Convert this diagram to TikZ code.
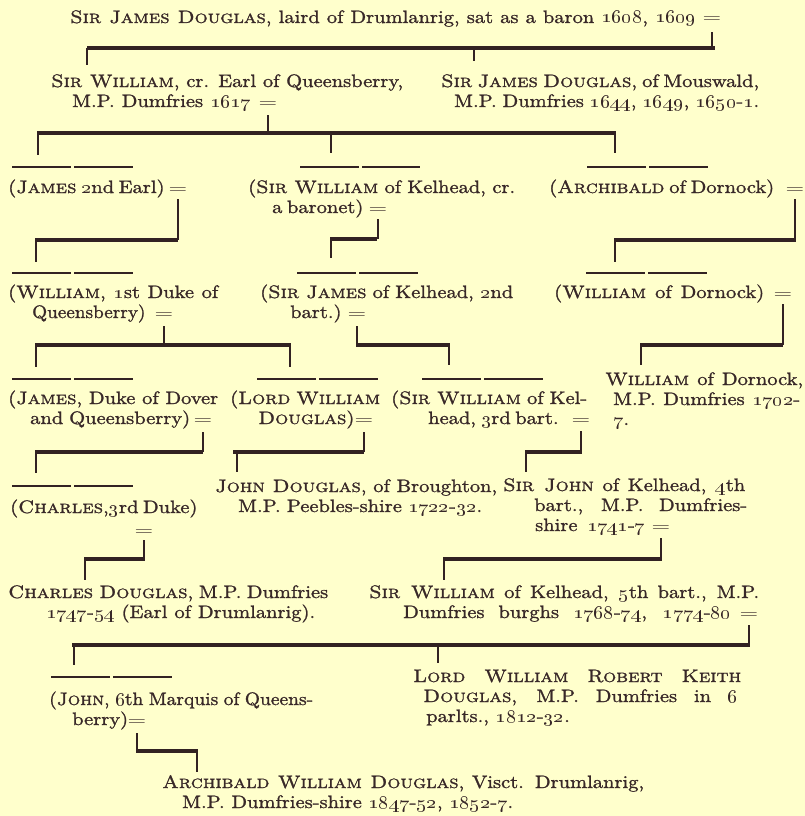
\documentclass[tikz,border=0pt]{standalone}
\usepackage{graphicx}
\definecolor{paper}{RGB}{255,255,204}
\definecolor{ink}{RGB}{56,40,40}
\definecolor{rulec}{RGB}{50,34,34}
\newcommand\on[1]{\oldstylenums{#1}}
\newcommand\heavy[1]{\special{pdf:literal direct 2 Tr 0.12 w}#1\special{pdf:literal direct 0 Tr}}
\newcommand\J[2]{\heavy{\scalebox{2.05}[1.8]{\makebox[\dimexpr #1pt*100/205\relax][s]{#2}}}}
\newcommand\Js[3]{\heavy{\scalebox{#2}[1.8]{\makebox[\dimexpr #1pt*100/\numexpr\fpeval{#2*100}\relax\relax][s]{#3}}}}
\newcommand\N[1]{\heavy{\scalebox{2.05}[1.8]{#1}}}
\newcommand\Ns[2]{\heavy{\scalebox{#1}[1.8]{#2}}}
\newcommand\EQ{\scalebox{2.4}[1.6]{=}}
\tikzset{
 txt/.style={anchor=base west, inner sep=0pt, text=ink, font=\fontsize{10}{12}\selectfont},
 eqs/.style={anchor=base, inner sep=0pt, text=ink, font=\fontsize{10}{12}\selectfont},
 bar/.style={draw=rulec, line width=3.6pt},
 vline/.style={draw=rulec, line width=2.5pt},
 tick/.style={draw=rulec, line width=2pt},
 over/.style={draw=rulec, line width=1.4pt, dash pattern=on 59pt off 3pt},
}
\begin{document}
\begin{tikzpicture}[x=1pt,y=-1pt]
\fill[paper] (0,0) rectangle (805,816);
\useasboundingbox (0,0) rectangle (805,816);

% ---------- text ----------
\node[txt] (a) at (70,23) {\J{626}{\textsc{Sir James Douglas}, laird of Drumlanrig, sat as a baron \on{1608}, \on{1609}}};
\node[eqs] (eqA) at (712,23) {\EQ};

\node[txt] (b1) at (51,87) {\J{352}{\textsc{Sir William}, cr. Earl of Queensberry,}};
\node[txt] (b1b) at (72,107) {\J{179}{M.P. Dumfries \on{1617}}};
\node[eqs] (eqB) at (268,107) {\EQ};
\node[txt] (b2) at (441,87) {\J{318}{\textsc{Sir James Douglas}, of Mouswald,}};
\node[txt] (b2b) at (454,107) {\J{305}{M.P. Dumfries \on{1644}, \on{1649}, \on{1650}-\on{1}.}};

\node[txt] (c1) at (8,193) {\J{155}{(\textsc{James} \on{2}nd Earl)}};
\node[eqs] (eqC1) at (178,193) {\EQ};
\node[txt] (c2) at (248,193) {\J{267}{(\textsc{Sir William} of Kelhead, cr.}};
\node[txt] (c2b) at (272,213) {\J{87}{a baronet)}};
\node[eqs] (eqC2) at (378,213) {\EQ};
\node[txt] (c3) at (549,193) {\J{225}{(\textsc{Archibald} of Dornock)}};
\node[eqs] (eqC3) at (795,193) {\EQ};

\node[txt] (d1) at (8,298) {\J{210}{(\textsc{William}, \on{1}st Duke of}};
\node[txt] (d1b) at (32,318) {\Ns{1.92}{Queensberry)}};
\node[eqs] (eqD1) at (164,318) {\EQ};
\node[txt] (d2) at (260,298) {\J{253}{(\textsc{Sir James} of Kelhead, \on{2}nd}};
\node[txt] (d2b) at (290,318) {\N{bart.)}};
\node[eqs] (eqD2) at (357,318) {\EQ};
\node[txt] (d3) at (554,298) {\J{210}{(\textsc{William} of Dornock)}};
\node[eqs] (eqD3) at (783,298) {\EQ};

\node[txt] (e1) at (8,404) {\J{210}{(\textsc{James}, Duke of Dover}};
\node[txt] (e1b) at (30,424) {\J{160}{and Queensberry)}};
\node[eqs] (eqE1) at (203,424) {\EQ};
\node[txt] (e2) at (230,404) {\J{150}{(\textsc{Lord William}}};
\node[txt] (e2b) at (258,424) {\N{\textsc{Douglas})}};
\node[eqs] (eqE2) at (364,424) {\EQ};
\node[txt] (e3) at (391,404) {\J{196}{(\textsc{Sir William} of Kel-}};
\node[txt] (e3b) at (428,424) {\J{119}{head, \on{3}rd bart.}};
\node[eqs] (eqE3) at (581,424) {\EQ};
\node[txt] (e4) at (605,385) {\J{198}{\textsc{William} of Dornock,}};
\node[txt] (e4b) at (613,405) {\J{187}{M.P. Dumfries \on{1702}-}};
\node[txt] (e4c) at (613,425) {\N{\on{7}.}};

\node[txt] (f1) at (10,513) {\J{183}{(\textsc{Charles},\on{3}rd Duke)}};
\node[eqs] (eqF1) at (144,535) {\EQ};
\node[txt] (f2) at (215,492) {\J{282}{\textsc{John Douglas}, of Broughton,}};
\node[txt] (f2b) at (238,512) {\J{244}{M.P. Peebles-shire \on{1722}-\on{32}.}};
\node[txt] (f3) at (503,491) {\J{242}{\textsc{Sir John} of Kelhead, \on{4}th}};
\node[txt] (f3b) at (534,511) {\J{213}{bart., M.P. Dumfries-}};
\node[txt] (f3c) at (535,531) {\J{110}{shire \on{1741}-\on{7}}};
\node[eqs] (eqF3) at (661,531) {\EQ};

\node[txt] (g1) at (8,598) {\J{320}{\textsc{Charles Douglas}, M.P. Dumfries}};
\node[txt] (g1b) at (46,618) {\J{269}{\on{1747}-\on{54} (Earl of Drumlanrig).}};
\node[txt] (g2) at (369,598) {\J{390}{\textsc{Sir William} of Kelhead, \on{5}th bart., M.P.}};
\node[txt] (g2b) at (403,618) {\J{328}{Dumfries burghs \on{1768}-\on{74}, \on{1774}-\on{80}}};
\node[eqs] (eqG2) at (749,618) {\EQ};

\node[txt] (h1) at (49,705) {\Js{264}{1.95}{(\textsc{John}, \on{6}th Marquis of Queens-}};
\node[txt] (h1b) at (72,725) {\N{berry)}};
\node[eqs] (eqH1) at (137,725) {\EQ};
\node[txt] (h2) at (413,682) {\J{328}{\textsc{Lord William Robert Keith}}};
\node[txt] (h2b) at (423,702) {\J{315}{\textsc{Douglas}, M.P. Dumfries in \on{6}}};
\node[txt] (h2c) at (426,722) {\N{parlts., \on{1812}-\on{32}.}};

\node[txt] (i1) at (162,788) {\J{482}{\textsc{Archibald William Douglas}, Visct. Drumlanrig,}};
\node[txt] (i2) at (182,808) {\J{331}{M.P. Dumfries-shire \on{1847}-\on{52}, \on{1852}-\on{7}.}};

% ---------- overlines ----------
\draw[over] (12,167) -- (133,167);
\draw[over] (300,167) -- (420,167);
\draw[over] (587,167) -- (709,167);
\draw[over] (12,273) -- (133,273);
\draw[over] (297,273) -- (419,273);
\draw[over] (586,273) -- (708,273);
\draw[over] (12,379) -- (133,379);
\draw[over] (257,379) -- (378,379);
\draw[over] (422,379) -- (543,379);
\draw[over] (12,486) -- (133,486);
\draw[over] (51,677) -- (172,677);

% ---------- connectors ----------
% A
\coordinate (Al) at (87,48); \coordinate (Ar) at (715,48);
\coordinate (Ab1) at (87,65); \coordinate (Ab2) at (474,61);
\draw[vline] ([yshift=-9pt]eqA.south) -- (eqA.south |- Ar);
\draw[bar] (Al) -- (Ar);
\draw[tick] (Al) -- (Ab1);
\draw[tick] (Ab2 |- Ar) -- (Ab2);
% B
\coordinate (Bl) at (37,133); \coordinate (Br) at (616,133);
\coordinate (Bc1) at (38,155); \coordinate (Bc2) at (331,153); \coordinate (Bc3) at (615,153);
\draw[vline] ([yshift=-8pt]eqB.south) -- (eqB.south |- Br);
\draw[bar] (Bl) -- (Br);
\draw[tick] (Bc1 |- Bl) -- (Bc1);
\draw[tick] (Bc2 |- Bl) -- (Bc2);
\draw[tick] (Bc3 |- Bl) -- (Bc3);
% C1
\coordinate (C1l) at (35,240); \coordinate (C1r) at (178,240); \coordinate (C1c) at (36,262);
\draw[vline] ([yshift=-6pt]eqC1.south) -- (eqC1.south |- C1r);
\draw[bar] (C1l) -- (C1r);
\draw[tick] (C1c |- C1l) -- (C1c);
% C2
\coordinate (C2l) at (330,239); \coordinate (C2r) at (377,239); \coordinate (C2c) at (331,258);
\draw[vline] ([yshift=-6pt]eqC2.south) -- (eqC2.south |- C2r);
\draw[bar] (C2l) -- (C2r);
\draw[tick] (C2c |- C2l) -- (C2c);
% C3
\coordinate (C3l) at (614,240); \coordinate (C3r) at (796,240); \coordinate (C3c) at (615,262);
\draw[vline] ([yshift=-6pt]eqC3.south) -- (eqC3.south |- C3r);
\draw[bar] (C3l) -- (C3r);
\draw[tick] (C3c |- C3l) -- (C3c);
% D1
\coordinate (D1l) at (35,345); \coordinate (D1r) at (291,345);
\coordinate (D1c1) at (36,367); \coordinate (D1c2) at (290,367);
\draw[vline] ([yshift=-8pt]eqD1.south) -- (eqD1.south |- D1r);
\draw[bar] (D1l) -- (D1r);
\draw[tick] (D1c1 |- D1l) -- (D1c1);
\draw[tick] (D1c2 |- D1l) -- (D1c2);
% D2
\coordinate (D2l) at (356,345); \coordinate (D2r) at (450,345); \coordinate (D2c) at (449,365);
\draw[vline] ([yshift=-8pt]eqD2.south) -- (eqD2.south |- D2r);
\draw[bar] (D2l) -- (D2r);
\draw[tick] (D2c |- D2l) -- (D2c);
% D3
\coordinate (D3l) at (640,345); \coordinate (D3r) at (783,345); \coordinate (D3c) at (641,365);
\draw[vline] ([yshift=-6pt]eqD3.south) -- (eqD3.south |- D3r);
\draw[bar] (D3l) -- (D3r);
\draw[tick] (D3c |- D3l) -- (D3c);
% E1
\coordinate (E1l) at (35,452); \coordinate (E1r) at (203,452); \coordinate (E1c) at (36,473);
\draw[vline] ([yshift=-8pt]eqE1.south) -- (eqE1.south |- E1r);
\draw[bar] (E1l) -- (E1r);
\draw[tick] (E1c |- E1l) -- (E1c);
% E2
\coordinate (E2l) at (233,452); \coordinate (E2r) at (364,452); \coordinate (E2c) at (237,472);
\draw[vline] ([yshift=-8pt]eqE2.south) -- (eqE2.south |- E2r);
\draw[bar] (E2l) -- (E2r);
\draw[tick] (E2c |- E2l) -- (E2c);
% E3
\coordinate (E3l) at (525,452); \coordinate (E3r) at (582,452); \coordinate (E3c) at (526,472);
\draw[vline] ([yshift=-7pt]eqE3.south) -- (eqE3.south |- E3r);
\draw[bar] (E3l) -- (E3r);
\draw[tick] (E3c |- E3l) -- (E3c);
% F1
\coordinate (F1l) at (84,559); \coordinate (F1r) at (145,559); \coordinate (F1c) at (85,580);
\draw[vline] ([yshift=-5pt]eqF1.south) -- (eqF1.south |- F1r);
\draw[bar] (F1l) -- (F1r);
\draw[tick] (F1c |- F1l) -- (F1c);
% F3
\coordinate (F3l) at (443,559); \coordinate (F3r) at (662,559); \coordinate (F3c) at (444,580);
\draw[vline] ([yshift=-7pt]eqF3.south) -- (eqF3.south |- F3r);
\draw[bar] (F3l) -- (F3r);
\draw[tick] (F3c |- F3l) -- (F3c);
% G2
\coordinate (G2l) at (72,645); \coordinate (G2r) at (750,645);
\coordinate (G2c1) at (74,665); \coordinate (G2c2) at (438,663);
\draw[vline] ([yshift=-7pt]eqG2.south) -- (eqG2.south |- G2r);
\draw[bar] (G2l) -- (G2r);
\draw[tick] (G2c1 |- G2l) -- (G2c1);
\draw[tick] (G2c2 |- G2l) -- (G2c2);
% H1
\coordinate (H1l) at (136,751); \coordinate (H1r) at (198,751); \coordinate (H1c) at (197,772);
\draw[vline] ([yshift=-8pt]eqH1.south) -- (eqH1.south |- H1l);
\draw[bar] (H1l) -- (H1r);
\draw[tick] (H1c |- H1r) -- (H1c);
\end{tikzpicture}
\end{document}
